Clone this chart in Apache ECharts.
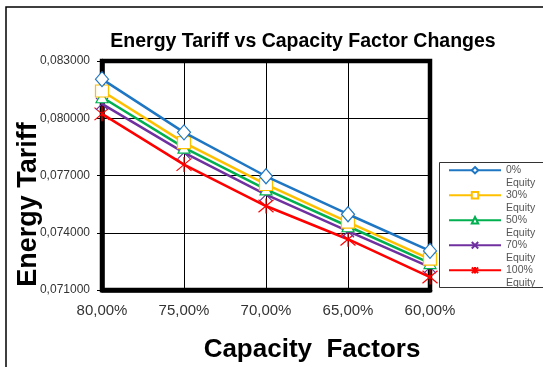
<!DOCTYPE html>
<html><head><meta charset="utf-8">
<script src="https://cdn.jsdelivr.net/npm/echarts@6/dist/echarts.min.js"></script>
<style>html,body{margin:0;padding:0;background:#fff}#c{width:543px;height:367px}</style>
</head><body><div id="c"></div>
<script>
const categories = ['80,00%','75,00%','70,00%','65,00%','60,00%'];
const seriesNames = ['0% Equity','30% Equity','50% Equity','70% Equity','100% Equity'];
const equity0 = [0.08205, 0.07926, 0.07696, 0.07497, 0.07305];
const equity30 = [0.08143, 0.07872, 0.07653, 0.07456, 0.07262];
const equity50 = [0.08110, 0.07846, 0.07627, 0.07434, 0.07241];
const equity70 = [0.08075, 0.07820, 0.07600, 0.07408, 0.07220];
const equity100 = [0.08023, 0.07757, 0.07540, 0.07366, 0.07168];
const yTicks = [0.071, 0.074, 0.077, 0.080, 0.083];

const colors = ['#1f77c4','#ffc000','#00b050','#7030a0','#ff0000'];
const symbols = ['diamond','rect','triangle','path://M0,0L10,10M10,0L0,10','path://M0,0L10,10M10,0L0,10M5,-1L5,11'];
const sizes = [[13,15],[13,12],[12,11],[12,12],[15,15]];
const datas = [equity0, equity30, equity50, equity70, equity100];

const legendText = {fontFamily:'Liberation Sans, Arial', fontSize:10.5, color:'#555', lineHeight:12.5};
const chart = echarts.init(document.getElementById('c'));
chart.setOption({
  animation:false,
  title:{text:'Energy Tariff vs Capacity Factor Changes', left:298, top:27, textAlign:'center',
    textStyle:{fontFamily:'Liberation Sans, Arial', fontSize:19.5, fontWeight:'bold', color:'#000'}},
  graphic:[
    {type:'rect', shape:{x:6,y:7,width:600,height:400}, style:{fill:'none', stroke:'#000', lineWidth:1.5}, z:-1},
    {type:'rect', shape:{x:439.5,y:162.5,width:110,height:125}, style:{fill:'#fff', stroke:'#333', lineWidth:1}, z:-1}
  ],
  grid:{left:102, right:113, top:61, bottom:77, show:true, borderColor:'#000', borderWidth:4.5, outerBoundsMode:'none', containLabel:false},
  legend:[
    {orient:'vertical', left:448, top:164, padding:0, itemWidth:52, itemHeight:8, itemGap:12.5,
     data:seriesNames, formatter: n => n.split(' ')[0], textStyle:legendText},
    {orient:'vertical', left:448, top:176.5, padding:0, itemWidth:52, itemHeight:8, itemGap:12.5,
     data:seriesNames, formatter: n => n.split(' ')[1], textStyle:legendText,
     itemStyle:{opacity:0}, lineStyle:{opacity:0}}
  ],
  xAxis:{type:'category', data:categories, boundaryGap:false,
    name:'Capacity  Factors', nameLocation:'middle', nameGap:47, nameMoveOverlap:false,
    nameTextStyle:{fontFamily:'Liberation Sans, Arial', fontSize:26, fontWeight:'bold', color:'#000', padding:[0,0,0,92]},
    axisLine:{lineStyle:{color:'#000', width:4.5}}, axisTick:{show:false},
    axisLabel:{fontFamily:'Liberation Sans, Arial', fontSize:15, color:'#333', margin:13},
    splitLine:{show:true, lineStyle:{color:'#000', width:1}}},
  yAxis:{type:'value', min:0.071, max:0.083, interval:0.003,
    name:'Energy Tariff', nameLocation:'middle', nameGap:60, nameMoveOverlap:false,
    nameTextStyle:{fontFamily:'Liberation Sans, Arial', fontSize:27, fontWeight:'bold', color:'#000', padding:[0,58,0,0]},
    axisLine:{show:true, lineStyle:{color:'#000', width:4.5}},
    axisTick:{show:true, length:5, lineStyle:{color:'#000', width:1}},
    axisLabel:{fontFamily:'Liberation Sans, Arial', fontSize:12, color:'#333', margin:12,
      formatter: v => v.toFixed(6).replace('.', ',')},
    splitLine:{show:true, lineStyle:{color:'#000', width:1}}},
  series: datas.map((d,i)=>({
    name:seriesNames[i], type:'line', data:d, symbol:symbols[i], symbolSize:sizes[i],
    showAllSymbol:true,
    lineStyle:{color:colors[i], width:2.5},
    itemStyle:{color:'#fff', borderColor:colors[i], borderWidth:1.2},
    z: 10-i
  }))
});
</script></body></html>
